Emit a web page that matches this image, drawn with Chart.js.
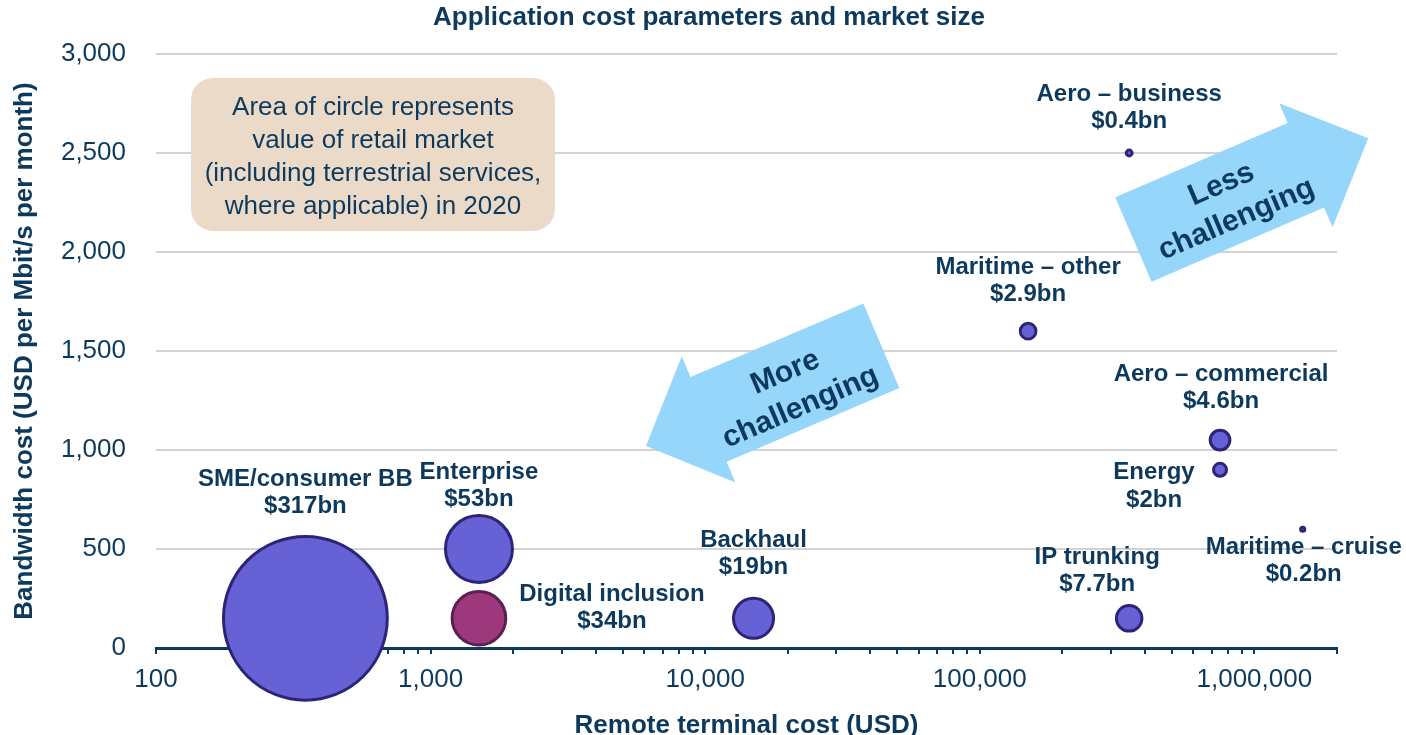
<!DOCTYPE html>
<html><head><meta charset="utf-8">
<script src="https://cdn.jsdelivr.net/npm/chart.js@4/dist/chart.umd.min.js"></script>
<style>html,body{margin:0;padding:0;background:#fff;overflow:hidden}#wrap{width:1406px;height:735px;position:relative}canvas{display:block}</style>
</head><body><div id="wrap"><canvas id="c" width="1406" height="735"></canvas></div>
<script>
// ---- data ----
const names = ['SME/consumer BB','Enterprise','Digital inclusion','Backhaul','IP trunking','Maritime – other','Aero – commercial','Energy','Aero – business','Maritime – cruise'];
const terminalCost = [350, 1500, 1500, 15000, 350000, 150000, 750000, 750000, 350000, 1500000];
const bandwidthCost = [150, 500, 150, 150, 150, 1600, 1050, 900, 2500, 600];
const marketValue = [317, 53, 34, 19, 7.7, 2.9, 4.6, 2, 0.4, 0.2];
const marketLabels = ['$317bn','$53bn','$34bn','$19bn','$7.7bn','$2.9bn','$4.6bn','$2bn','$0.4bn','$0.2bn'];
const xTickValues = [100, 1000, 10000, 100000, 1000000];
const xTickLabels = ['100','1,000','10,000','100,000','1,000,000'];
const yTickValues = [0, 500, 1000, 1500, 2000, 2500, 3000];
const yTickLabels = ['0','500','1,000','1,500','2,000','2,500','3,000'];

// ---- styles ----
const FONT = '"Liberation Sans", Arial, sans-serif';
const NAVY = '#0d3a5c';
const FILL = '#6661d4', BORDER = '#2c2577';
const DI_FILL = '#9e387d', DI_BORDER = '#5a2150';
const ARROW = '#96d6fa';
const BUBBLE_K = 4.6; // px per sqrt($bn)
const AREA = { left: 156, right: 1337, top: 54, bottom: 648 };
// label offsets (px) of first text line relative to bubble centre
const labelOffsets = [[0,-139],[0,-77],[133,-24],[0,-78],[-32,-61],[0,-64],[1,-66],[-66,3],[0,-59],[1,18]];
const LINE_GAP = 27.5;

// minor/major tick positions for the log axis
const xAllTicks = [];
for (let e = 2; e <= 6; e++) {
  for (let m = 1; m <= 9; m++) {
    const v = Math.round(m * Math.pow(10, e));
    if (v <= 2000000) xAllTicks.push(v);
  }
}
xAllTicks.push(2000000);

function drawArrow(ctx, tail, tip, shaftW, headW, headL, fill) {
  const dx = tip[0]-tail[0], dy = tip[1]-tail[1];
  const len = Math.hypot(dx, dy);
  const ux = dx/len, uy = dy/len, nx = -uy, ny = ux;
  const bx = tip[0]-ux*headL, by = tip[1]-uy*headL;
  const s = shaftW/2, h = headW/2;
  ctx.beginPath();
  ctx.moveTo(tail[0]+nx*s, tail[1]+ny*s);
  ctx.lineTo(bx+nx*s, by+ny*s);
  ctx.lineTo(bx+nx*h, by+ny*h);
  ctx.lineTo(tip[0], tip[1]);
  ctx.lineTo(bx-nx*h, by-ny*h);
  ctx.lineTo(bx-nx*s, by-ny*s);
  ctx.lineTo(tail[0]-nx*s, tail[1]-ny*s);
  ctx.closePath();
  ctx.fillStyle = fill;
  ctx.fill();
}

function drawRotText(ctx, lines, cx, cy, ang, gap) {
  ctx.save();
  ctx.translate(cx, cy);
  ctx.rotate(ang);
  ctx.fillStyle = NAVY;
  ctx.font = 'bold 30px ' + FONT;
  ctx.textAlign = 'center';
  ctx.textBaseline = 'middle';
  const n = lines.length;
  lines.forEach((t, i) => ctx.fillText(t, 0, (i - (n-1)/2) * gap));
  ctx.restore();
}

const fixLayout = {
  id: 'fixLayout',
  afterLayout(chart) {
    const ca = chart.chartArea;
    ca.left = AREA.left; ca.right = AREA.right; ca.top = AREA.top; ca.bottom = AREA.bottom;
    ca.width = AREA.right - AREA.left; ca.height = AREA.bottom - AREA.top;
    const x = chart.scales.x, y = chart.scales.y;
    x.left = AREA.left; x.right = AREA.right; x.width = AREA.right - AREA.left;
    x.top = AREA.bottom; x.bottom = chart.height; x.height = chart.height - AREA.bottom;
    y.left = 0; y.right = AREA.left; y.width = AREA.left;
    y.top = AREA.top; y.bottom = AREA.bottom; y.height = AREA.bottom - AREA.top;
    x.configure(); y.configure();
  }
};

const overlay = {
  id: 'overlay',
  afterDatasetsDraw(chart) {
    const ctx = chart.ctx, xs = chart.scales.x, ys = chart.scales.y;
    ctx.save();
    ctx.fillStyle = NAVY;
    ctx.font = 'bold 24px ' + FONT;
    ctx.textAlign = 'center';
    ctx.textBaseline = 'middle';
    names.forEach((n, i) => {
      const px = xs.getPixelForValue(terminalCost[i]);
      const py = ys.getPixelForValue(bandwidthCost[i]);
      const [dx, dy] = labelOffsets[i];
      ctx.fillText(n, px+dx, py+dy);
      ctx.fillText(marketLabels[i], px+dx, py+dy+LINE_GAP);
    });
    ctx.restore();
  },
  afterDraw(chart) {
    const ctx = chart.ctx;
    ctx.save();
    // title
    ctx.fillStyle = NAVY;
    ctx.font = 'bold 26px ' + FONT;
    ctx.textAlign = 'center';
    ctx.textBaseline = 'middle';
    ctx.fillText('Application cost parameters and market size', 709, 18);
    // note box
    ctx.fillStyle = '#ecdac9';
    ctx.beginPath();
    if (ctx.roundRect) ctx.roundRect(191, 78, 364, 153, 22); else ctx.rect(191, 78, 364, 153);
    ctx.fill();
    ctx.fillStyle = NAVY;
    ctx.font = '26px ' + FONT;
    const boxLines = ['Area of circle represents','value of retail market','(including terrestrial services,','where applicable) in 2020'];
    boxLines.forEach((t, i) => ctx.fillText(t, 373, 108 + i*33));
    // arrows
    drawArrow(ctx, [1133.4, 239.5], [1368.3, 138.3], 92, 135, 68, ARROW);
    drawArrow(ctx, [881.3, 345.8], [646, 446], 92, 137, 68, ARROW);
    const ang = Math.atan2(138.3-239.5, 1368.3-1133.4);
    drawRotText(ctx, ['Less','challenging'], 1229, 202, ang, 38);
    drawRotText(ctx, ['More','challenging'], 793, 390, ang, 38);
    ctx.restore();
  }
};

new Chart(document.getElementById('c'), {
  type: 'bubble',
  data: {
    datasets: [{
      data: terminalCost.map((x, i) => ({ x: x, y: bandwidthCost[i], r: BUBBLE_K * Math.sqrt(marketValue[i]) })),
      backgroundColor: names.map(n => n === 'Digital inclusion' ? DI_FILL : FILL),
      borderColor: names.map(n => n === 'Digital inclusion' ? DI_BORDER : BORDER),
      borderWidth: 3,
      hoverBorderWidth: 3,
      hoverRadius: 0,
      clip: false
    }]
  },
  options: {
    responsive: false,
    animation: false,
    devicePixelRatio: 1,
    events: [],
    layout: { padding: { top: 54, right: 69, left: 0, bottom: 0 } },
    plugins: { legend: { display: false }, tooltip: { enabled: false }, title: { display: false } },
    scales: {
      x: {
        type: 'logarithmic',
        position: 'bottom',
        min: 100, max: 2000000,
        afterBuildTicks: s => { s.ticks = xAllTicks.map(v => ({ value: v })); },
        afterFit: s => { s.height = 87; },
        border: { display: true, color: NAVY, width: 3 },
        grid: { drawOnChartArea: false, drawTicks: true, tickLength: 6, color: NAVY, lineWidth: 2 },
        ticks: {
          autoSkip: false, maxRotation: 0, minRotation: 0, padding: 10, color: NAVY,
          font: { family: FONT, size: 26 },
          callback: (v) => { const k = xTickValues.indexOf(Number(v)); return k >= 0 ? xTickLabels[k] : ''; }
        },
        title: { display: true, text: 'Remote terminal cost (USD)', color: NAVY,
          font: { family: FONT, size: 26, weight: 'bold', lineHeight: 0.7 }, padding: 0 }
      },
      y: {
        min: 0, max: 3000,
        afterBuildTicks: s => { s.ticks = yTickValues.map(v => ({ value: v })); },
        afterFit: s => { s.width = 156; },
        border: { display: false },
        grid: { color: '#d3d3d3', lineWidth: 2, drawTicks: false },
        ticks: {
          padding: 30, color: NAVY, font: { family: FONT, size: 26 },
          callback: (v) => { const k = yTickValues.indexOf(Number(v)); return k >= 0 ? yTickLabels[k] : ''; }
        },
        title: { display: true, text: 'Bandwidth cost (USD per Mbit/s per month)', color: NAVY,
          font: { family: FONT, size: 26, weight: 'bold', lineHeight: 1.2 }, padding: { top: 9, bottom: 0 } }
      }
    }
  },
  plugins: [fixLayout, overlay]
});
</script>
</body></html>
